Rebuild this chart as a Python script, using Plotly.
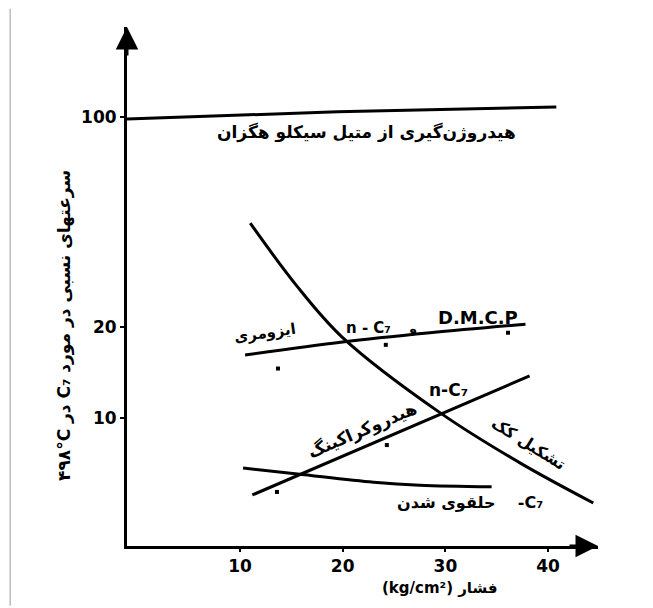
import math
import plotly.graph_objects as go

# ---- data ----
x_ticks = [10, 20, 30, 40]
y_ticks = [10, 20, 100]

# Dehydrogenation of methylcyclohexane
dehyd_p = [-1.0, 19.5, 40.8]
dehyd_r = [98.5, 104.0, 108.0]

# Coke formation
coke_p = [11.0, 15.45, 20.0, 29.5, 37.3, 44.4]
coke_r = [44.4, 27.7, 18.5, 10.4, 7.08, 5.22]

# Isomerization (n-C7 and D.M.C.P)
iso_p = [10.5, 20.0, 28.5, 37.8]
iso_r = [16.2, 17.9, 19.2, 20.5]

# Hydrocracking
hcrack_p = [11.2, 38.2]
hcrack_r = [5.55, 13.8]

# Cyclization of C7
cycl_p = [10.3, 15.6, 23.0, 27.5, 34.5]
cycl_r = [6.82, 6.52, 6.12, 5.98, 5.91]

# small point marks
pts_p = [13.7, 24.2, 36.1, 13.6, 24.3]
pts_r = [14.6, 17.5, 19.2, 5.68, 8.13]

FONT_FA = "DejaVu Sans"
LINE_W = 3

fig = go.Figure()
for px_, py_ in [(dehyd_p, dehyd_r), (coke_p, coke_r), (iso_p, iso_r),
                 (hcrack_p, hcrack_r), (cycl_p, cycl_r)]:
    fig.add_trace(go.Scatter(x=px_, y=py_, mode="lines",
                             line=dict(color="black", width=LINE_W, shape="spline", smoothing=1.0),
                             showlegend=False, hoverinfo="skip"))
fig.add_trace(go.Scatter(x=pts_p, y=pts_r, mode="markers",
                         marker=dict(symbol="square", size=4, color="black"),
                         showlegend=False, hoverinfo="skip"))

ann = []
def lab(x, y, text, size=14, angle=0):
    ann.append(dict(x=x, y=math.log10(y), xref="x", yref="y", text=text, showarrow=False,
                    xanchor="center", yanchor="middle", textangle=angle,
                    font=dict(family=FONT_FA, size=size, color="black", weight="bold")))

lab(22.3, 88.5, "هیدروژن‌گیری از متیل سیکلو هگزان", 17)
lab(12.4, 19.2, "ایزومری", 15, -8)
lab(22.5, 19.9, "n - C₇", 15)
lab(26.8, 19.8, "و", 13)
lab(33.2, 21.5, "D.M.C.P", 18)
lab(30.3, 12.4, "n-C₇", 17)
lab(21.9, 9.12, "هیدروکراکینگ", 17, -23)
lab(38.1, 8.26, "تشکیل کک", 16, 32)
lab(32.4, 5.22, "حلقوی شدن    -C₇", 16)

# axis titles
ann.append(dict(x=-0.1316, y=0.424, xref="paper", yref="paper", showarrow=False, textangle=-90,
                xanchor="center", yanchor="middle",
                text="۴۹۸°C در C₇ سرعتهای نسبی در مورد",
                font=dict(family=FONT_FA, size=17, color="black", weight="bold")))
ann.append(dict(x=0.6645, y=-0.0806, xref="paper", yref="paper", showarrow=False,
                xanchor="center", yanchor="middle",
                text="(kg/cm²) فشار",
                font=dict(family=FONT_FA, size=15, color="black", weight="bold")))
# axis arrows
ann.append(dict(x=0, y=1, xref="paper", yref="paper", ax=0, ay=30, showarrow=True,
                arrowhead=2, arrowsize=1.5, arrowwidth=3, arrowcolor="black", text=""))
ann.append(dict(x=1, y=0, xref="paper", yref="paper", ax=-30, ay=0, showarrow=True,
                arrowhead=2, arrowsize=1.5, arrowwidth=3, arrowcolor="black", text=""))

fig.update_layout(
    width=645, height=600,
    margin=dict(l=119, r=55, t=19, b=62),
    paper_bgcolor="white", plot_bgcolor="white",
    annotations=ann,
    shapes=[dict(type="line", xref="paper", yref="paper", x0=-0.248, x1=-0.248, y0=-0.115, y1=1.035,
                 line=dict(color="#bdbdbd", width=1.5))],
    xaxis=dict(range=[-1.0, 44.86], tickvals=x_ticks, ticktext=[str(v) for v in x_ticks],
               showgrid=False, zeroline=False, showline=True, linecolor="black", linewidth=3,
               ticks="outside", ticklen=3, tickwidth=2, tickcolor="black",
               tickfont=dict(family="DejaVu Sans", size=17, color="black", weight="bold")),
    yaxis=dict(type="log", range=[0.5748, 2.299], tickvals=y_ticks, ticktext=[str(v) for v in y_ticks],
               showgrid=False, zeroline=False, showline=True, linecolor="black", linewidth=3,
               ticks="outside", ticklen=4, tickwidth=2, tickcolor="black",
               tickfont=dict(family="DejaVu Sans", size=17, color="black", weight="bold")),
)

fig.write_html("out.html")
